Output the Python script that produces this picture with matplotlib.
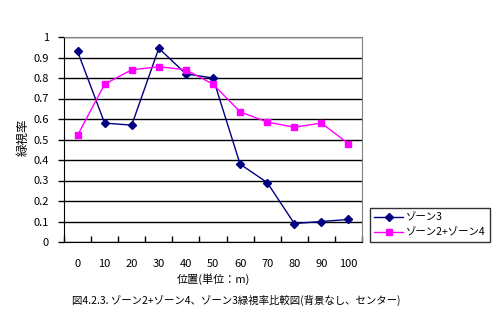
import matplotlib
matplotlib.use("Agg")
import matplotlib.pyplot as plt
import numpy as np

plt.rcParams['font.family'] = ['Noto Sans CJK JP', 'DejaVu Sans']

positions = ['0', '10', '20', '30', '40', '50', '60', '70', '80', '90', '100']
zone3 = [0.93, 0.58, 0.57, 0.945, 0.82, 0.80, 0.38, 0.29, 0.09, 0.10, 0.11]
zone2_4 = [0.52, 0.77, 0.84, 0.855, 0.84, 0.77, 0.635, 0.585, 0.56, 0.58, 0.48]
yticks = np.round(np.arange(0, 1.01, 0.1), 1)
ytick_labels = ['0', '0.1', '0.2', '0.3', '0.4', '0.5', '0.6', '0.7', '0.8', '0.9', '1']

fig = plt.figure(figsize=(5.01, 3.22), dpi=100)
ax = fig.add_axes([64 / 501, 1 - 242 / 322, 298 / 501, 205 / 322])

x = np.arange(len(positions))
ax.plot(x, zone3, color='#000080', marker='D', markersize=4.5, linewidth=1.0, label='ゾーン3')
ax.plot(x, zone2_4, color='#ff00ff', marker='s', markersize=5, linewidth=1.0, label='ゾーン2+ゾーン4')

ax.set_xlim(-0.5, len(positions) - 0.5)
ax.set_ylim(0, 1)
ax.set_yticks(yticks)
ax.set_yticklabels(ytick_labels, fontsize=8)
ax.set_xticks(x)
ax.set_xticklabels(positions, fontsize=8)
ax.set_xticks(np.arange(-0.5, len(positions)), minor=True)
ax.tick_params(axis='x', which='major', length=0, pad=12)
ax.tick_params(axis='x', which='minor', length=4, direction='in', width=1)
ax.tick_params(axis='y', length=4, direction='out', width=1, pad=7)

ax.grid(axis='y', color='black', linewidth=1)
ax.set_axisbelow(True)
for side in ['top', 'right']:
    ax.spines[side].set_color('#808080')
for side in ['left', 'bottom']:
    ax.spines[side].set_color('black')

ax.set_ylabel('緑視率', fontsize=9)
ax.yaxis.set_label_coords(30 / 501, 1 - 137 / 322, transform=fig.transFigure)
ax.set_xlabel('位置(単位：m)', fontsize=8, labelpad=3)

leg = ax.legend(loc='lower left', bbox_to_anchor=(370 / 501, 1 - 242 / 322), bbox_transform=fig.transFigure,
                fontsize=7.5, frameon=True, fancybox=False, borderaxespad=0,
                handlelength=2.8, borderpad=0.4, labelspacing=0.5, handletextpad=0.25)
leg.get_frame().set_edgecolor('black')
leg.get_frame().set_linewidth(1)

fig.text(72 / 501, 1 - 300 / 322, '図4.2.3. ゾーン2+ゾーン4、ゾーン3緑視率比較図(背景なし、センター)',
         fontsize=7.5, va='center', ha='left')

fig.savefig('out.png', dpi=100)
